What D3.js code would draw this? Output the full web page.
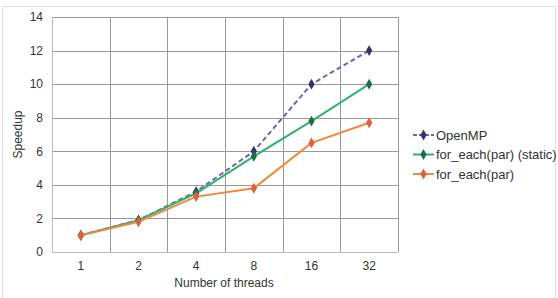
<!DOCTYPE html>
<html>
<head>
<meta charset="utf-8">
<script src="https://cdn.jsdelivr.net/npm/d3@7"></script>
<style>
  body { margin: 0; background: #fff; }
  text { font-family: "Liberation Sans", Arial, sans-serif; fill: #333; }
</style>
</head>
<body>
<div id="chart"></div>
<script>
const WIDTH = 558, HEIGHT = 298;
const MARGIN = { left: 52, top: 17, right: 160, bottom: 46 };
const INNER_WIDTH = WIDTH - MARGIN.left - MARGIN.right;
const INNER_HEIGHT = HEIGHT - MARGIN.top - MARGIN.bottom;

const threads = ["1", "2", "4", "8", "16", "32"];
const openmp = [1, 1.9, 3.6, 6.0, 10.0, 12.0];
const forEachStatic = [1, 1.9, 3.5, 5.7, 7.8, 10.0];
const forEachPar = [1, 1.8, 3.3, 3.8, 6.5, 7.7];
const yTicks = [0, 2, 4, 6, 8, 10, 12, 14];

const series = [
    { name: "OpenMP", values: openmp, line: "#7a5fb0", dot: "#3b2d6e", dash: "5,3" },
    { name: "for_each(par) (static)", values: forEachStatic, line: "#2db36f", dot: "#1e6e46", dash: null },
    { name: "for_each(par)", values: forEachPar, line: "#f0883e", dot: "#e0603a", dash: null }
];

const root = d3.select("#chart").append("svg")
    .attr("width", WIDTH)
    .attr("height", HEIGHT);

// outer frame
root.append("rect")
    .attr("x", 2.5).attr("y", 6.5)
    .attr("width", 553).attr("height", 300)
    .attr("fill", "none")
    .attr("stroke", "#ddd");

const svg = root.append("g")
    .attr("transform", `translate(${MARGIN.left},${MARGIN.top})`);

const x = d3.scaleBand().domain(threads).range([0, INNER_WIDTH]);
const y = d3.scaleLinear().domain([0, 14]).range([INNER_HEIGHT, 0]);

// grid
svg.selectAll(".hgrid")
    .data(yTicks)
    .join("line")
    .attr("x1", 0).attr("x2", INNER_WIDTH)
    .attr("y1", d => Math.round(y(d)) + 0.5).attr("y2", d => Math.round(y(d)) + 0.5)
    .attr("stroke", d => d === 0 ? "#bbb" : "#999");

svg.selectAll(".vgrid")
    .data(threads.slice(1).concat(["end"]))
    .join("line")
    .attr("x1", (d, i) => Math.round(x.step() * (i + 1)) + 0.5)
    .attr("x2", (d, i) => Math.round(x.step() * (i + 1)) + 0.5)
    .attr("y1", 0).attr("y2", INNER_HEIGHT)
    .attr("stroke", "#999");

svg.append("line")
    .attr("x1", 0.5).attr("x2", 0.5)
    .attr("y1", 0).attr("y2", INNER_HEIGHT)
    .attr("stroke", "#bbb");

// axes
const yAxis = svg.append("g")
    .call(d3.axisLeft(y).tickValues(yTicks).tickSize(0).tickPadding(9));
yAxis.select(".domain").remove();
yAxis.selectAll("text").style("font-size", "12px").attr("fill", "#333");

const xAxis = svg.append("g")
    .attr("transform", `translate(0,${INNER_HEIGHT})`)
    .call(d3.axisBottom(x).tickSize(0).tickPadding(9));
xAxis.select(".domain").remove();
xAxis.selectAll("text").style("font-size", "12px").attr("fill", "#333");

// lines and markers
const line = d3.line()
    .x((d, i) => x(threads[i]) + x.bandwidth() / 2)
    .y(d => y(d));

const diamond = d3.symbol().type(d3.symbolDiamond).size(34);

series.forEach(s => {
    svg.append("path")
        .datum(s.values)
        .attr("fill", "none")
        .attr("stroke", s.line)
        .attr("stroke-width", 2)
        .attr("stroke-dasharray", s.dash)
        .attr("d", line);

    svg.selectAll(null)
        .data(s.values)
        .join("path")
        .attr("d", diamond)
        .attr("transform", (d, i) => `translate(${x(threads[i]) + x.bandwidth() / 2},${y(d)})`)
        .attr("fill", s.dot);
});

// axis titles
svg.append("text")
    .attr("x", INNER_WIDTH / 2 - 1)
    .attr("y", INNER_HEIGHT + 35)
    .attr("text-anchor", "middle")
    .style("font-size", "12px")
    .text("Number of threads");

svg.append("text")
    .attr("transform", `translate(-30,${INNER_HEIGHT / 2}) rotate(-90)`)
    .attr("text-anchor", "middle")
    .style("font-size", "12px")
    .text("Speedup");

// legend
const legend = root.append("g")
    .attr("transform", "translate(413,135)");

series.forEach((s, i) => {
    const g = legend.append("g").attr("transform", `translate(0,${i * 19.5})`);
    g.append("line")
        .attr("x1", 0).attr("x2", 21)
        .attr("stroke", s.line)
        .attr("stroke-width", 2)
        .attr("stroke-dasharray", s.dash ? "4,2" : null);
    g.append("path")
        .attr("d", diamond)
        .attr("transform", "translate(10.5,0)")
        .attr("fill", s.dot);
    g.append("text")
        .attr("x", 23)
        .attr("dy", "0.35em")
        .style("font-size", "13px")
        .text(s.name);
});
</script>
</body>
</html>
